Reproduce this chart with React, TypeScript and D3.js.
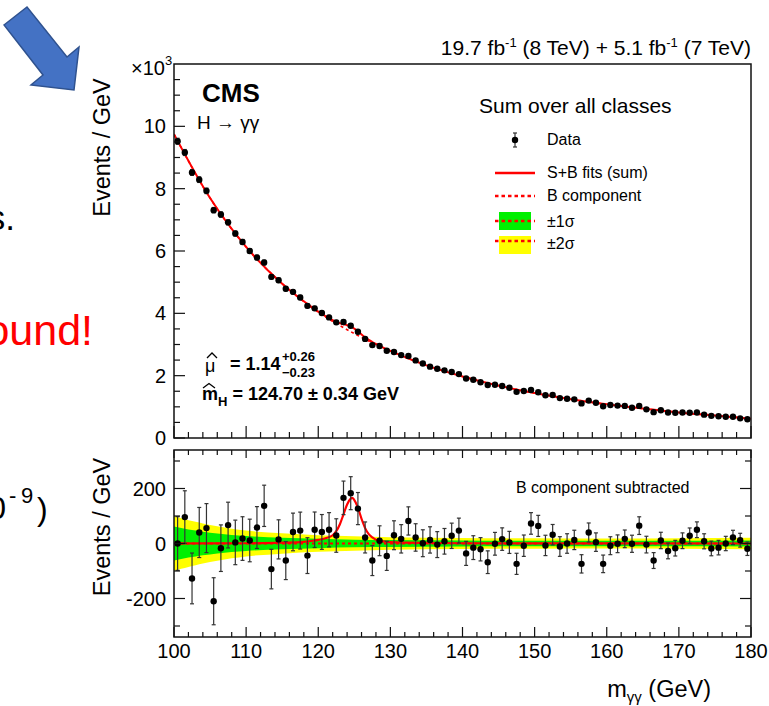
import React from "react";
import * as d3 from "d3";

// Diphoton mass bins (1 GeV wide), centres
const binCenters = d3.range(100.5, 180, 1);

// Events / GeV in units of 10^3, sum over all classes
const eventsK = [
  9.52, 9.16, 8.52, 8.29, 7.93, 7.31, 7.17, 6.92, 6.56, 6.29,
  6.0, 5.79, 5.63, 5.17, 5.06, 4.79, 4.69, 4.51, 4.24, 4.16,
  4.01, 3.87, 3.71, 3.72, 3.6, 3.41, 3.18, 2.98, 2.95, 2.8,
  2.76, 2.66, 2.63, 2.49, 2.39, 2.29, 2.22, 2.17, 2.12, 2.05,
  1.91, 1.87, 1.79, 1.7, 1.71, 1.67, 1.61, 1.48, 1.51, 1.54,
  1.47, 1.37, 1.38, 1.28, 1.26, 1.24, 1.11, 1.2, 1.13, 1.02,
  1.06, 1.04, 1.03, 0.97, 1.03, 0.92, 0.83, 0.89, 0.82, 0.81,
  0.82, 0.81, 0.82, 0.75, 0.71, 0.7, 0.68, 0.68, 0.63, 0.6,
];

// Events / GeV after subtracting the background component
const residuals = [
  0, 96, -127, 40, 56, -210, -17, 67, 4, 18,
  11, 58, 137, -93, 15, -62, 42, 47, -44, 50,
  42, 50, 29, 166, 183, 127, 22, -62, 10, -45,
  30, 17, 82, 22, 1, 13, -4, 8, 28, 47,
  -36, -15, -21, -68, -1, 16, 4, -74, -8, 73,
  64, -7, 32, -11, 0, 13, -74, 40, 5, -74,
  -8, -1, 17, -1, 65, -4, -62, 11, -27, -17,
  10, 28, 50, 8, -18, -15, 0, 22, 12, -19,
];

// Background component of the fit (10^3 events / GeV)
const bgMass = [100, 105, 110, 115, 120, 125, 130, 135, 140, 145, 150, 155, 160, 165, 170, 175, 180];
const bgFitK = [9.75, 7.7, 6.13, 4.95, 4.04, 3.35, 2.79, 2.33, 1.975, 1.68, 1.44, 1.245, 1.08, 0.945, 0.82, 0.72, 0.62];

// Signal component of the S+B fit (events / GeV)
const sigMass = [100, 110, 115, 118, 119, 120, 121, 122, 122.5, 123, 123.5, 124, 124.5, 124.7, 125, 125.5, 126, 126.5, 127, 127.5, 128, 129, 130, 135, 140, 180];
const sigEvents = [0, 1, 3, 6, 9, 13, 19, 30, 45, 70, 106, 142, 163, 166, 158, 130, 90, 56, 34, 22, 14, 8, 5, 2, 1, 0];

// Background uncertainty bands (half widths, events / GeV)
const bandMass = [100, 101, 102, 103, 104, 106, 108, 110, 115, 120, 125, 130, 140, 150, 160, 170, 180];
const band1 = [62, 56, 51, 47, 43, 36, 31, 27, 21, 17, 14, 13, 11, 10, 10, 10, 11];
const band2 = [100, 92, 85, 79, 73, 63, 54, 47, 37, 30, 26, 23, 20, 19, 18, 19, 21];

const xMajorTicks = [100, 110, 120, 130, 140, 150, 160, 170, 180];
const upperYTicks = [0, 2, 4, 6, 8, 10];
const lowerYTicks = [-200, 0, 200];

const W = 769;
const H = 706;
const left = 174;
const right = 751;
const upTop = 64;
const upBottom = 438;
const loTop = 450;
const loBottom = 637;

const FONT = "'Liberation Sans', Arial, Helvetica, sans-serif";
const GREEN = "#00f000";
const YELLOW = "#ffff00";
const RED = "#ff0000";

const x = d3.scaleLinear().domain([100, 180]).range([left, right]);
const yUp = d3.scaleLinear().domain([0, 12]).range([upBottom, upTop]);
const yLo = d3.scaleLinear().domain([-340, 340]).range([loBottom, loTop]);

const logBg = d3.scaleLinear().domain(bgMass).range(bgFitK.map(Math.log));
const bgAt = (m: number) => Math.exp(logBg(m));
const sigAt = d3.scaleLinear().domain(sigMass).range(sigEvents).clamp(true);

const fitMass = Array.from(new Set([...bgMass, ...sigMass])).sort((a, b) => a - b);

const lineUp = d3
  .line<[number, number]>()
  .x((d) => x(d[0]))
  .y((d) => yUp(d[1]))
  .curve(d3.curveMonotoneX);
const lineLo = d3
  .line<[number, number]>()
  .x((d) => x(d[0]))
  .y((d) => yLo(d[1]))
  .curve(d3.curveMonotoneX);

const bgPath = lineUp(bgMass.map((m, i) => [m, bgFitK[i]] as [number, number])) || "";
const sbPath = lineUp(fitMass.map((m) => [m, bgAt(m) + sigAt(m) / 1000] as [number, number])) || "";
const sigPath = lineLo(sigMass.map((m, i) => [m, sigEvents[i]] as [number, number])) || "";

const bandArea = (hw: number[]) =>
  d3
    .area<number>()
    .x((_, i) => x(bandMass[i]))
    .y0((_, i) => yLo(-hw[i]))
    .y1((_, i) => yLo(hw[i]))
    .curve(d3.curveMonotoneX)(hw) || "";

const errors = eventsK.map((v) => Math.sqrt(v * 1000));

const xMinor = d3.range(100, 180.001, 2);
const upYMinor = d3.range(0, 12, 0.5);
const loYMinor = d3.range(-300, 301, 100);

function ErrorBar({ cx, y0, y1 }: { cx: number; y0: number; y1: number }) {
  return (
    <g stroke="#333" strokeWidth={1.2}>
      <line x1={cx} x2={cx} y1={y0} y2={y1} />
      <line x1={cx - 2} x2={cx + 2} y1={y0} y2={y0} />
      <line x1={cx - 2} x2={cx + 2} y1={y1} y2={y1} />
    </g>
  );
}

export default function App() {
  return (
    <svg
      width={W}
      height={H}
      viewBox={`0 0 ${W} ${H}`}
      style={{ position: "absolute", left: 0, top: 0, background: "#fff" }}
      fontFamily={FONT}
    >
      <defs>
        <clipPath id="upClip">
          <rect x={left} y={upTop} width={right - left} height={upBottom - upTop} />
        </clipPath>
        <clipPath id="loClip">
          <rect x={left} y={loTop} width={right - left} height={loBottom - loTop} />
        </clipPath>
      </defs>
      <rect x={0} y={0} width={W} height={H} fill="#fff" />

      {/* slide fragments at the left edge */}
      <polygon
        points="4,25 27,7 67,57 79,47 74,90 31,85 43,75"
        fill="#4472C4"
        stroke="#2F528F"
        strokeWidth={1.5}
        strokeLinejoin="miter"
      />
      <text x={15} y={230} fontSize={35} textAnchor="end" fill="#000">
        s.
      </text>
      <text x={93} y={345} fontSize={43} textAnchor="end" fill={RED}>
        ound!
      </text>
      <text x={6} y={519} fontSize={32} textAnchor="end" fill="#000">
        0
      </text>
      <text x={9} y={503} fontSize={22} fill="#000">
        -<tspan x={21}>9</tspan>
      </text>
      <text x={37} y={520} fontSize={32} fill="#000">
        )
      </text>

      {/* ===== upper panel ===== */}
      <g clipPath="url(#upClip)">
        <path d={bgPath} fill="none" stroke={RED} strokeWidth={1.6} strokeDasharray="3,3" />
        <path d={sbPath} fill="none" stroke={RED} strokeWidth={2} />
        {binCenters.map((m, i) => (
          <ErrorBar
            key={"ue" + i}
            cx={x(m)}
            y0={yUp(eventsK[i] - errors[i] / 1000)}
            y1={yUp(eventsK[i] + errors[i] / 1000)}
          />
        ))}
        {binCenters.map((m, i) => (
          <circle key={"up" + i} cx={x(m)} cy={yUp(eventsK[i])} r={3.2} fill="#000" />
        ))}
      </g>

      {/* upper frame and ticks */}
      <g stroke="#111" strokeWidth={1.2}>
        {upYMinor.map((v) => {
          const major = v % 2 === 0;
          return (
            <line key={"uy" + v} x1={left} x2={left + (major ? 11 : 6)} y1={yUp(v)} y2={yUp(v)} />
          );
        })}
        {xMinor.map((v) => {
          const major = v % 10 === 0;
          return (
            <line key={"ux" + v} x1={x(v)} x2={x(v)} y1={upBottom} y2={upBottom - (major ? 12 : 6)} />
          );
        })}
      </g>
      <rect
        x={left}
        y={upTop}
        width={right - left}
        height={upBottom - upTop}
        fill="none"
        stroke="#111"
        strokeWidth={1.5}
      />
      {upperYTicks.map((v) => (
        <text key={"uyl" + v} x={166} y={yUp(v) + 7} fontSize={20} textAnchor="end">
          {v}
        </text>
      ))}
      <text x={165} y={75} fontSize={20} textAnchor="end">
        ×10
      </text>
      <text x={165} y={65} fontSize={13}>
        3
      </text>
      <text transform={`translate(110,147.5) rotate(-90)`} fontSize={23.5} textAnchor="middle">
        Events / GeV
      </text>

      <text x={751} y={55} fontSize={21} textAnchor="end">
        19.7 fb
        <tspan fontSize={13} dy={-8}>
          -1
        </tspan>
        <tspan dy={8}> (8 TeV) + 5.1 fb</tspan>
        <tspan fontSize={13} dy={-8}>
          -1
        </tspan>
        <tspan dy={8}> (7 TeV)</tspan>
      </text>

      <text x={202} y={102} fontSize={26} fontWeight="bold">
        CMS
      </text>
      <text x={197} y={129} fontSize={19}>
        H → γγ
      </text>

      {/* legend */}
      <text x={479} y={113} fontSize={21}>
        Sum over all classes
      </text>
      <ErrorBar cx={515} y0={133} y1={147} />
      <circle cx={515} cy={140} r={3.2} fill="#000" />
      <text x={547} y={145} fontSize={16}>
        Data
      </text>
      <line x1={495} x2={535} y1={173} y2={173} stroke={RED} strokeWidth={2.5} />
      <text x={547} y={178} fontSize={16}>
        S+B fits (sum)
      </text>
      <line x1={495} x2={535} y1={196} y2={196} stroke={RED} strokeWidth={2.5} strokeDasharray="3.5,3" />
      <text x={547} y={201} fontSize={16}>
        B component
      </text>
      <rect x={499} y={212} width={32} height={18} fill={GREEN} />
      <line x1={495} x2={535} y1={221} y2={221} stroke={RED} strokeWidth={2.5} strokeDasharray="3.5,3" />
      <text x={547} y={227} fontSize={16}>
        ±1σ
      </text>
      <rect x={499} y={236} width={32} height={18} fill={YELLOW} />
      <line x1={495} x2={535} y1={241} y2={241} stroke={RED} strokeWidth={2.5} strokeDasharray="3.5,3" />
      <text x={547} y={249} fontSize={16}>
        ±2σ
      </text>

      {/* fit results */}
      <path d="M207,358 L212,353 L217,358" fill="none" stroke="#000" strokeWidth={1.3} />
      <text x={205} y={372} fontSize={18}>
        μ
      </text>
      <text x={230} y={370} fontSize={18} fontWeight="bold">
        = 1.14
      </text>
      <text x={282} y={361} fontSize={13} fontWeight="bold">
        +0.26
      </text>
      <text x={282} y={377} fontSize={13} fontWeight="bold">
        −0.23
      </text>
      <path d="M203,388 L209,383.5 L215,388" fill="none" stroke="#000" strokeWidth={1.3} />
      <text x={202} y={400} fontSize={18} fontWeight="bold">
        m
        <tspan fontSize={13} dy={6}>
          H
        </tspan>
        <tspan dy={-6}> = 124.70 ± 0.34 GeV</tspan>
      </text>

      {/* ===== lower panel ===== */}
      <g clipPath="url(#loClip)">
        <path d={bandArea(band2)} fill={YELLOW} />
        <path d={bandArea(band1)} fill={GREEN} />
        <line x1={left} x2={right} y1={yLo(0)} y2={yLo(0)} stroke={RED} strokeWidth={2} strokeDasharray="3,3" />
        <path d={sigPath} fill="none" stroke={RED} strokeWidth={2.2} />
        {binCenters.map((m, i) => (
          <ErrorBar
            key={"le" + i}
            cx={x(m)}
            y0={yLo(residuals[i] - errors[i])}
            y1={yLo(residuals[i] + errors[i])}
          />
        ))}
        {binCenters.map((m, i) => (
          <circle key={"lp" + i} cx={x(m)} cy={yLo(residuals[i])} r={3.2} fill="#000" />
        ))}
      </g>

      <g stroke="#111" strokeWidth={1.2}>
        {loYMinor.map((v) => {
          const major = v % 200 === 0;
          const len = major ? 11 : 6;
          return (
            <g key={"ly" + v}>
              <line x1={left} x2={left + len} y1={yLo(v)} y2={yLo(v)} />
              <line x1={right} x2={right - len} y1={yLo(v)} y2={yLo(v)} />
            </g>
          );
        })}
        {xMinor.map((v) => {
          const major = v % 10 === 0;
          return (
            <g key={"lx" + v}>
              <line x1={x(v)} x2={x(v)} y1={loBottom} y2={loBottom - (major ? 10 : 5)} />
              <line x1={x(v)} x2={x(v)} y1={loTop} y2={loTop + (major ? 8 : 5)} />
            </g>
          );
        })}
      </g>
      <rect
        x={left}
        y={loTop}
        width={right - left}
        height={loBottom - loTop}
        fill="none"
        stroke="#111"
        strokeWidth={1.5}
      />
      {lowerYTicks.map((v) => (
        <text key={"lyl" + v} x={166} y={yLo(v) + 7} fontSize={20} textAnchor="end">
          {v}
        </text>
      ))}
      {xMajorTicks.map((v) => (
        <text key={"xl" + v} x={x(v)} y={658} fontSize={20} textAnchor="middle">
          {v}
        </text>
      ))}
      <text transform={`translate(110,527) rotate(-90)`} fontSize={23.5} textAnchor="middle">
        Events / GeV
      </text>
      <text x={516} y={493} fontSize={16}>
        B component subtracted
      </text>
      <text x={711} y={697} fontSize={23.5} textAnchor="end">
        m
        <tspan fontSize={15} dy={5}>
          γγ
        </tspan>
        <tspan dy={-5}> (GeV)</tspan>
      </text>
    </svg>
  );
}
